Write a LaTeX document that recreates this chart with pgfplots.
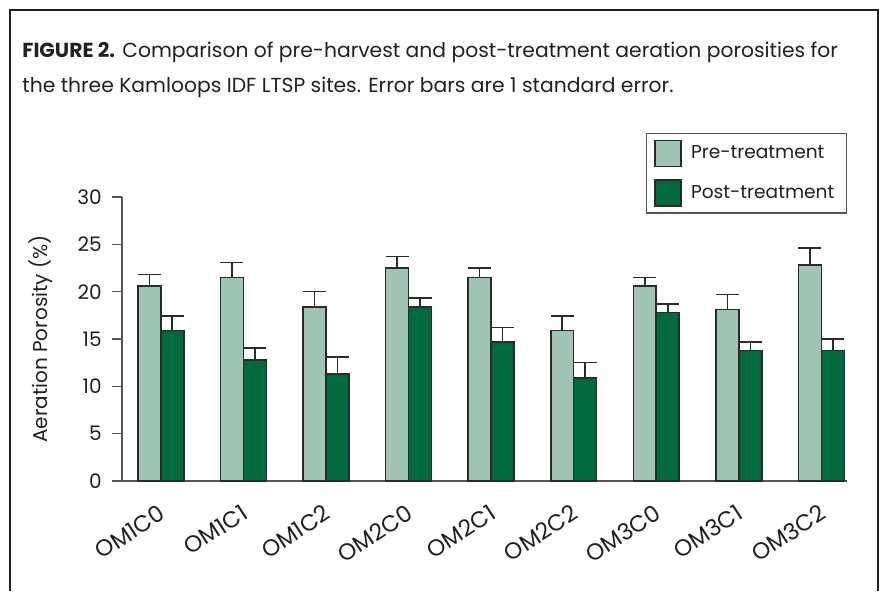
\documentclass[border=0pt]{standalone}
\usepackage{fontspec}
\setmainfont{Poppins}
\usepackage{pgfplots}
\pgfplotsset{compat=1.18}
\definecolor{preC}{HTML}{A0C4B4}
\definecolor{postC}{HTML}{006A3E}
\definecolor{edgeC}{HTML}{2A2A2A}
\definecolor{axC}{HTML}{555555}
\definecolor{txtC}{HTML}{231F20}
\begin{document}
\begin{tikzpicture}[x=1pt,y=1pt]
\useasboundingbox (0,0) rectangle (442,295.5);
\draw[line width=1pt, txtC] (5,0) -- (5,290.5) -- (439,290.5) -- (439,0);
\node[anchor=base west, inner sep=0pt, font=\fontsize{10.15}{12}\selectfont, text=txtC] at (11,267) {\textbf{FIGURE 2.} Comparison of pre-harvest and post-treatment aeration porosities for};
\node[anchor=base west, inner sep=0pt, font=\fontsize{10.15}{12}\selectfont, text=txtC] at (11,249.5) {the three Kamloops IDF LTSP sites. Error bars are 1 standard error.};
\begin{axis}[
  at={(61pt,55pt)}, anchor=south west, scale only axis,
  width=362.5pt, height=142pt,
  xmin=-0.47, xmax=8.31, ymin=0, ymax=30,
  axis x line*=bottom, axis y line*=left,
  axis line style={axC, line width=1pt, -},
  ytick={0,5,...,30},
  xtick={0,...,8},
  xticklabels={OM1C0,OM1C1,OM1C2,OM2C0,OM2C1,OM2C2,OM3C0,OM3C1,OM3C2},
  tick align=outside, major tick length=5pt,
  ytick style={axC, line width=0.8pt},
  xtick style={draw=none},
  /pgf/number format/assume math mode=true,
  yticklabel style={inner sep=0pt, xshift=-5pt, font=\fontsize{10}{12}\selectfont, text=txtC},
  xticklabel style={inner sep=0pt, xshift=-1.5pt, yshift=-6pt, rotate=33, anchor=north east, font=\fontsize{11.5}{12}\selectfont, text=txtC},
  every axis y label/.style={at={(axis description cs:-0.112,0.5)}, rotate=90, anchor=center, font=\fontsize{10}{12}\selectfont, text=txtC},
  ylabel={Aeration Porosity (\%)},
  ybar, bar width=0.278,
  legend style={at={(1,1.225)}, anchor=north east, draw=axC, line width=0.6pt,
    font=\fontsize{9.3}{11}\selectfont, text=txtC, row sep=6pt, inner xsep=4pt, inner ysep=3pt},
  legend cell align=left,
]
\addplot[fill=preC, draw=edgeC, line width=0.8pt, bar shift=-0.139,
  legend image code/.code={\draw[fill=preC,draw=edgeC,line width=0.8pt] (0pt,-6.5pt) rectangle (13pt,6.5pt); \path (15.5pt,0pt);},
  error bars/.cd, y dir=plus, y explicit, error mark=|,
  error bar style={edgeC, line width=0.8pt},
  error mark options={edgeC, line width=0.8pt, mark size=5.75pt}]
coordinates {
(0,20.6) +- (0,1.2)
(1,21.5) +- (0,1.6)
(2,18.4) +- (0,1.6)
(3,22.5) +- (0,1.2)
(4,21.5) +- (0,1.0)
(5,15.9) +- (0,1.55)
(6,20.6) +- (0,0.9)
(7,18.1) +- (0,1.6)
(8,22.8) +- (0,1.8)
};
\addlegendentry{Pre-treatment}
\addplot[fill=postC, draw=edgeC, line width=0.8pt, bar shift=0.139,
  legend image code/.code={\draw[fill=postC,draw=edgeC,line width=0.8pt] (0pt,-6.5pt) rectangle (13pt,6.5pt); \path (15.5pt,0pt);},
  error bars/.cd, y dir=plus, y explicit, error mark=|,
  error bar style={edgeC, line width=0.8pt},
  error mark options={edgeC, line width=0.8pt, mark size=5.75pt}]
coordinates {
(0,15.9) +- (0,1.55)
(1,12.8) +- (0,1.25)
(2,11.3) +- (0,1.8)
(3,18.4) +- (0,0.9)
(4,14.7) +- (0,1.5)
(5,10.9) +- (0,1.6)
(6,17.8) +- (0,0.9)
(7,13.8) +- (0,0.9)
(8,13.8) +- (0,1.2)
};
\addlegendentry{Post-treatment}
\end{axis}
\end{tikzpicture}
\end{document}
